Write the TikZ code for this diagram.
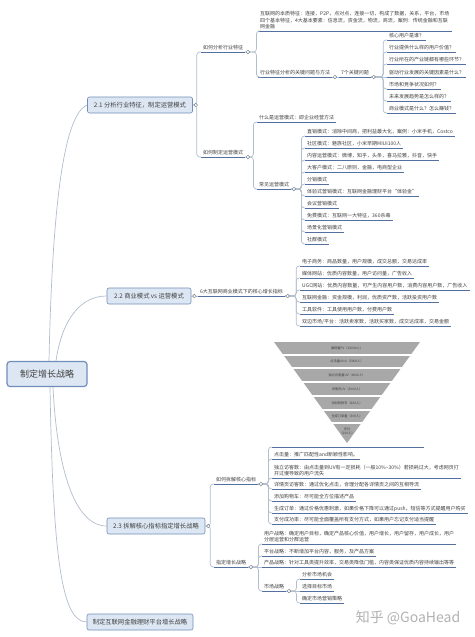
\documentclass[tikz,border=0pt]{standalone}
\usepackage{fontspec}
\newfontfamily\cjk{Noto Sans CJK SC}
\usepackage{tikz}
\usetikzlibrary{calc}
\definecolor{linkgray}{RGB}{178, 190, 206}
\definecolor{ulblue}{RGB}{84, 112, 160}
\definecolor{boxfill}{RGB}{221, 231, 243}
\definecolor{boxline}{RGB}{112, 142, 186}
\definecolor{ink}{RGB}{64, 64, 64}
\definecolor{funnelgray}{RGB}{168, 168, 168}

\tikzset{
  link/.style={draw=linkgray, line width=0.7pt, rounded corners=3pt},
  leaf/.style={font=\cjk\fontsize{5}{6.6}\selectfont, text=ink, inner xsep=2pt, inner ysep=1.6pt,
    anchor=south west, align=left,
    append after command={(\tikzlastnode.south west) edge[draw=ulblue, line width=0.8pt] (\tikzlastnode.south east)}},
  topic/.style={draw=boxline, fill=boxfill, rounded corners=2pt, line width=0.6pt,
    font=\cjk\fontsize{6.3}{7}\selectfont, text=ink, inner xsep=4pt, minimum height=16pt},
  root/.style={topic, line width=1.2pt, rounded corners=3pt, font=\cjk\fontsize{9}{10}\selectfont,
    minimum width=80pt, minimum height=25pt},
  knob/.style={draw=linkgray!70!black, fill=white, line width=0.5pt},
  bandtext/.style={font=\cjk\fontsize{3.2}{4}\selectfont, text=black!75, align=center, inner sep=0pt}
}

% from an anchor, out by #3, down/up, into the underline of #2
\newcommand{\branch}[3]{\draw[link] (#1) -- ($(#1)+(#3,0)$) |- (#2.south west);}

\begin{document}
\begin{tikzpicture}[x=1pt, y=-1pt]
  \fill[white] (0, 0) rectangle (474, 637);
  \useasboundingbox (0, 0) rectangle (474, 637);

  % Root and main topics
  \node[root] (root) at (47, 374) {制定增长战略};
  \node[topic, minimum width=105pt] (t1) at (140, 105) {2.1 分析行业特征，制定运营模式};
  \node[topic, minimum width=84pt] (t2) at (149, 296) {2.2 商业模式 vs 运营模式};
  \node[topic, minimum width=98pt] (t3) at (156, 526) {2.3 拆解核心指标指定增长战略};
  \node[topic, minimum width=106pt] (t4) at (140, 622) {制定互联网金融理财平台增长战略};

  \draw[link] ([xshift=2]root.north) .. controls (52, 220) and (62, 115) .. (t1.west);
  \draw[link] ([xshift=9]root.north) .. controls (62, 320) and (80, 296) .. (t2.west);
  \draw[link] ([xshift=6]root.south) .. controls (57, 470) and (75, 526) .. (t3.west);
  \draw[link] ([xshift=3]root.south) .. controls (53, 560) and (62, 622) .. (t4.west);

  % Branch 2.1
  \node[leaf] (a1) at (201, 52) {如何分析行业特征};
  \node[leaf] (a2) at (201, 157) {如何制定运营模式};
  \branch{t1.east}{a1}{4}
  \branch{t1.east}{a2}{4}

  \node[leaf] (a11) at (258, 31) {互联网的本质特征：连接，P2P，点对点，连接一切，构成了数据，关系，平台，市场\\
    四个基本特征，4大基本要素：信息流，资金流，物流，商流，案例：传统金融和互联\\网金融};
  \node[leaf] (a12) at (258, 77) {行业特征分析的关键问题与方法};
  \branch{a1.south east}{a11}{11}
  \branch{a1.south east}{a12}{11}

  \node[leaf] (kq) at (339, 77) {7个关键问题};
  \draw[link] (a12.south east) -- (kq.south west);

  \foreach \i/\y/\t in {1/40/核心用户是谁？, 2/52/行业提供什么样的用户价值？,
                        3/64/行业所在的产业链都有哪些环节？, 4/77/驱动行业发展的关键因素是什么？,
                        5/89/市场和竞争状况如何？, 6/101/未来发展趋势是怎么样的？,
                        7/113/商业模式是什么？怎么赚钱？} {
    \node[leaf] (q\i) at (387, \y) {\t};
  }
  \foreach \i in {1, 2, 3, 5, 6, 7} {
    \branch{kq.south east}{q\i}{12}
  }
  \draw[link] (kq.south east) -- (q4.south west);

  \node[leaf] (b1) at (257, 122) {什么是运营模式：即企业经营方法};
  \node[leaf] (b2) at (257, 189) {常见运营模式};
  \branch{a2.south east}{b1}{8}
  \branch{a2.south east}{b2}{8}

  \foreach \i/\t in {1/直销模式：消除中间商，把利益最大化，案例：小米手机，Costco,
                     2/社区模式：魅族社区，小米早期MIUI100人,
                     3/内容运营模式：微博，知乎，头条，喜马拉雅，抖音，快手,
                     4/大客户模式：二八原则，金融，电商型企业,
                     5/分销模式,
                     6/体验式营销模式：互联网金融理财平台“体验金”,
                     7/会议营销模式,
                     8/免费模式：互联网一大特征，360杀毒,
                     9/场景化营销模式,
                     10/社群模式} {
    \node[leaf] (c\i) at (305, 124 + 12*\i) {\t};
    \branch{b2.south east}{c\i}{10}
  }

  % Branch 2.2
  \node[leaf] (k6) at (198, 296) {6大互联网商业模式下的核心增长指标};
  \draw[link] (t2.east) -- (k6.south west);

  \foreach \i/\t in {1/电子商务：商品数量，用户规模，成交总额，交易达成率,
                     2/媒体网站：优质内容数量，用户访问量，广告收入,
                     3/UGC网站：优质内容数量，可产生内容用户数，消费内容用户数，广告收入,
                     4/互联网金融：资金规模，利润，优质资产数，活跃投资用户数,
                     5/工具软件：工具使用用户数，付费用户数,
                     6/{双边市场/平台：活跃卖家数，活跃买家数，成交达成率，交易金额}} {
    \node[leaf] (d\i) at (300, 254 + 12*\i) {\t};
    \branch{k6.south east}{d\i}{11}
  }

  % Branch 2.3
  \node[leaf] (e1) at (214, 484) {如何拆解核心指标};
  \node[leaf] (e2) at (214, 567) {指定增长战略};
  \branch{t3.east}{e1}{5}
  \branch{t3.east}{e2}{5}

  % Funnel
  \node[leaf, minimum width=152pt, minimum height=106pt, inner sep=0pt] (funnel) at (272, 447) {};
  \fill[funnelgray] (274, 342) -- (420, 342) -- (347, 443) -- cycle;
  \foreach \y in {355, 368, 382, 396, 410, 423} {
    \draw[white, line width=1.4pt] (270, \y) -- (424, \y);
  }
  \foreach \i/\y/\t in {1/348.5/展现量PV（10000人）, 2/361.5/点击量click（5000人）,
                        3/375/独立访客量UV（4000人）, 4/389/详情页UV（3000人）,
                        5/403/添加购物车（600人）, 6/416.5/生成订单量（300人）,
                        7/431/{支付\\（200人）}} {
    \node[bandtext] (band\i) at (347, \y) {\t};
  }

  \node[leaf] (f1) at (272, 459) {点击量：推广匹配性and新颖性影响。};
  \node[leaf] (f2) at (272, 478) {独立访客数：由点击量到UV有一定损耗（一般10\%{\textasciitilde}30\%）若损耗过大，考虑网页打\\开过慢导致的用户流失};
  \node[leaf] (f3) at (272, 489) {详情页访客数：通过优化点击，合理分配各详情页之间的互相导流};
  \node[leaf] (f4) at (272, 501) {添加购物车：尽可能全方位描述产品};
  \node[leaf] (f5) at (272, 513) {生成订单：通过价格优惠刺激，如果价格下降可以通过push，短信等方式提醒用户购买};
  \node[leaf] (f6) at (272, 524) {支付成功率：尽可能全面覆盖所有支付方式，如果用户忘记支付适当提醒};
  \branch{e1.south east}{funnel}{10}
  \foreach \i in {1, ..., 6} {
    \branch{e1.south east}{f\i}{10}
  }

  \node[leaf] (g1) at (262, 544) {用户战略：确定用户目标，确定产品核心价值，用户增长，用户留存，用户成长，用户\\分层运营和分群运营};
  \node[leaf] (g2) at (262, 556) {平台战略：不断增加平台内容，服务，及产品方案};
  \node[leaf] (g3) at (262, 567) {产品战略：针对工具类提升效率，交易类降低门槛，内容类保证优质内容持续输出等等};
  \node[leaf] (g4) at (262, 591) {市场战略};
  \branch{e2.south east}{g1}{10}
  \branch{e2.south east}{g2}{10}
  \draw[link] (e2.south east) -- (g3.south west);
  \branch{e2.south east}{g4}{10}

  \node[leaf] (h1) at (300, 579) {分析市场机会};
  \node[leaf] (h2) at (300, 591) {选择目标市场};
  \node[leaf] (h3) at (300, 603) {确定市场营销策略};
  \branch{g4.south east}{h1}{10}
  \draw[link] (g4.south east) -- (h2.south west);
  \branch{g4.south east}{h3}{10}

  % Collapse knobs
  \foreach \n in {t1, t2, t3} {
    \filldraw[knob] ([xshift=3]\n.east) circle (1.8);
  }
  \foreach \n in {a1, a12, kq, a2, b2, k6, e1, e2, g4} {
    \filldraw[knob] ([xshift=2.5]\n.south east) circle (1.8);
  }

  % Watermark
  \node[font=\cjk\fontsize{14}{16}\selectfont, text=black!30] (mark) at (408, 618) {知乎 @GoaHead};

\end{tikzpicture}
\end{document}
